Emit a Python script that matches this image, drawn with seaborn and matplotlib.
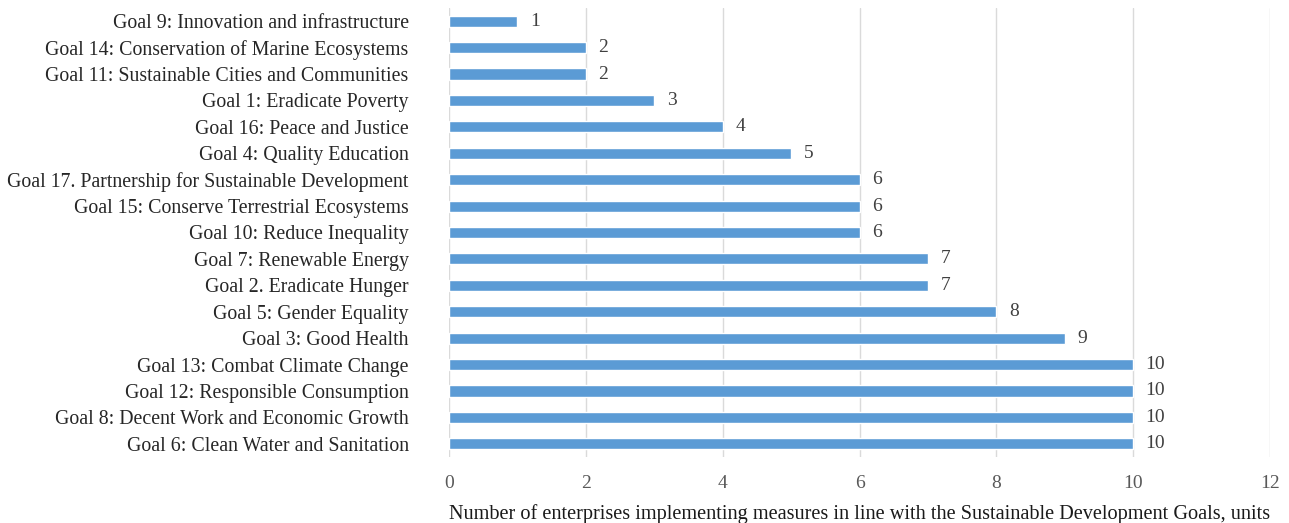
import matplotlib
matplotlib.use("Agg")
import matplotlib.pyplot as plt
import seaborn as sns
import pandas as pd

goals = [
    "Goal 9: Innovation and infrastructure",
    "Goal 14: Conservation of Marine Ecosystems",
    "Goal 11: Sustainable Cities and Communities",
    "Goal 1: Eradicate Poverty",
    "Goal 16: Peace and Justice",
    "Goal 4: Quality Education",
    "Goal 17. Partnership for Sustainable Development",
    "Goal 15: Conserve Terrestrial Ecosystems",
    "Goal 10: Reduce Inequality",
    "Goal 7: Renewable Energy",
    "Goal 2. Eradicate Hunger",
    "Goal 5: Gender Equality",
    "Goal 3: Good Health",
    "Goal 13: Combat Climate Change",
    "Goal 12: Responsible Consumption",
    "Goal 8: Decent Work and Economic Growth",
    "Goal 6: Clean Water and Sanitation",
]
counts = [1, 2, 2, 3, 4, 5, 6, 6, 6, 7, 7, 8, 9, 10, 10, 10, 10]
x_ticks = [0, 2, 4, 6, 8, 10, 12]
x_label = "Number of enterprises implementing measures in line with the Sustainable Development Goals, units"

df = pd.DataFrame({"goal": goals, "count": counts})

sns.set_theme(style="white")
plt.rcParams["font.family"] = ["Liberation Serif", "DejaVu Serif"]

fig = plt.figure(figsize=(12.89, 5.23), dpi=100)
ax = fig.add_axes([449 / 1289, 1 - 457 / 523, (1270 - 449) / 1289, 449 / 523])

sns.barplot(data=df, x="count", y="goal", order=goals, color="#5B9BD5",
            saturation=1, width=0.42, ax=ax)

ax.set_xlim(0, 12)
ax.set_ylim(16.5, -0.5)
ax.set_xticks(x_ticks)
ax.set_xticklabels([str(t) for t in x_ticks])
ax.grid(axis="x", color="#DADADA", linewidth=1)
ax.set_axisbelow(True)
for s in ax.spines.values():
    s.set_visible(False)

ax.tick_params(axis="x", length=0, labelsize=14, labelcolor="#595959", pad=13)
ax.tick_params(axis="y", length=0, labelsize=14.3, labelcolor="#262626", pad=29)
ax.set_ylabel("")
ax.set_xlabel(x_label, fontsize=14.6, color="#1a1a1a", labelpad=9)

for cont in ax.containers:
    ax.bar_label(cont, labels=[str(v) for v in counts], padding=9,
                 fontsize=14, color="#404040")

fig.savefig("out.png", dpi=100)
